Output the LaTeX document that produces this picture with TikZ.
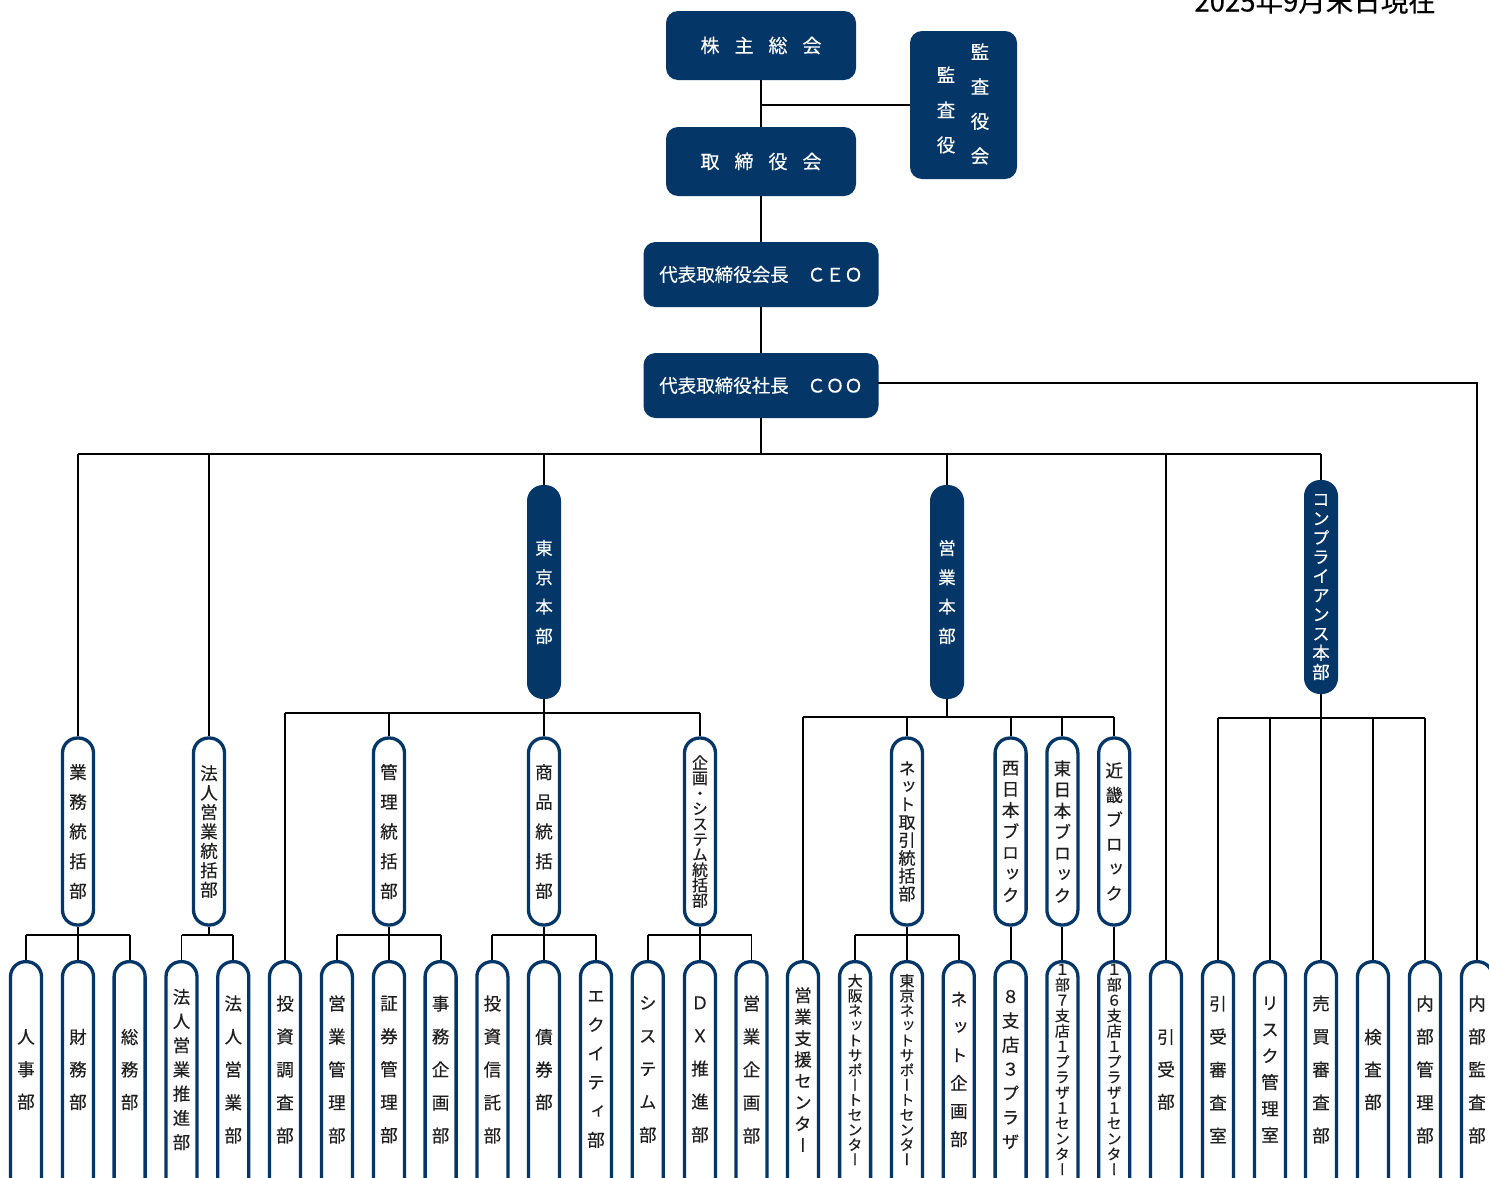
\documentclass[tikz,border=0pt]{standalone}
\usepackage{fontspec}
\setmainfont{Noto Sans CJK JP}[FakeBold=0.3]
\newfontfamily\vfont{Noto Sans CJK JP}[RawFeature=+vert,FakeBold=0.3]
\definecolor{navy}{RGB}{4,54,104}
\definecolor{txt}{RGB}{30,30,30}
\makeatletter
\def\vt@app#1{\ifx\vt@acc\@empty\def\vt@acc{#1}\else\expandafter\def\expandafter\vt@acc\expandafter{\vt@acc\\#1}\fi}
\newcommand\vt[1]{\def\vt@acc{}\@tfor\vt@c:=#1\do{\expandafter\vt@app\expandafter{\vt@c}}\vt@acc}
\makeatother
\tikzset{
 conn/.style={draw=black, line width=1.9pt},
 fbox/.style={fill=navy, text=white, rounded corners=12pt, inner sep=0pt},
 vtxt/.style 2 args={font={\vfont\fontsize{#1}{#2}\selectfont\lineskiplimit=-100pt\lineskip=0pt}, align=center, inner sep=0pt},
 vfill/.style={fill=navy, text=white, rounded corners=16pt, minimum width=34pt, minimum height=214pt, inner sep=0pt},
 midbox/.style={draw=navy, fill=white, line width=3.3pt, rounded corners=15pt, minimum width=31pt, minimum height=187pt, inner sep=0pt, text=txt},
 botbox/.style={draw=navy, fill=white, line width=3.3pt, rounded corners=15pt, minimum width=31pt, minimum height=235pt, inner sep=0pt, anchor=north},
}
\newcommand\bnode[5]{%
 \node[botbox] (#1) at (#2,960) {};
 \node[vtxt={#3}{#4}, text=txt] (#1-t) at (#2,1069.5) {\vt{#5}};
}
\newcommand\mnode[5]{%
 \node[midbox, vtxt={#3}{#4}] (#1) at (#2,831.5) {\vt{#5}};
}
\begin{document}
\begin{tikzpicture}[x=1pt,y=-1pt]
\useasboundingbox (0,0) rectangle (1489,1178);
\clip (0,0) rectangle (1489,1178);
\fill[white] (0,0) rectangle (1489,1178);

% date
\node[anchor=base east, font=\fontsize{27.5}{27.5}\selectfont, text=black, inner sep=0pt] (date) at (1436,11.5) {2025年9月末日現在};

% top boxes
\node[fbox, minimum width=190pt, minimum height=69pt, font=\fontsize{19}{19}\selectfont] (kabu) at (761,45.5) {株\hspace{15pt}主\hspace{15pt}総\hspace{15pt}会};
\node[fbox, minimum width=190pt, minimum height=69pt, font=\fontsize{19}{19}\selectfont] (tori) at (761,161.5) {取\hspace{15pt}締\hspace{15pt}役\hspace{15pt}会};
\node[fbox, minimum width=107pt, minimum height=148pt] (kansa) at (963.5,105) {};
\node[vtxt={18.5}{34.7}, text=white] (kansa-a) at (980,104) {\vt{監査役会}};
\node[vtxt={18.5}{35}, text=white] (kansa-b) at (946,110) {\vt{監査役}};
\node[fbox, minimum width=235pt, minimum height=65pt, font=\fontsize{18.5}{18.5}\selectfont] (ceo) at (761,274.5) {代表取締役会長　ＣＥＯ};
\node[fbox, minimum width=235pt, minimum height=65pt, font=\fontsize{18.5}{18.5}\selectfont] (coo) at (761,385.5) {代表取締役社長　ＣＯＯ};

% headquarters (filled vertical)
\node[vfill, vtxt={17.5}{29.3}] (tokyo) at (544,592) {\vt{東京本部}};
\node[vfill, vtxt={17.5}{29.3}] (eigyo) at (947,592) {\vt{営業本部}};
\node[vfill, vtxt={17.5}{19.2}] (compl) at (1321,587) {\vt{コンプライアンス本部}};

% middle row
\mnode{gyomu}{78}{17.5}{29.7}{業務統括部}
\mnode{hojin}{209}{17.5}{19.4}{法人営業統括部}
\mnode{kanri}{389}{17.5}{29.7}{管理統括部}
\mnode{shohin}{544}{17.5}{29.7}{商品統括部}
\mnode{kikaku}{700}{16}{15.3}{企画・システム統括部}
\mnode{net}{907}{17}{17.9}{ネット取引統括部}
\mnode{nishi}{1010.6}{17.5}{21.2}{西日本ブロック}
\mnode{higashi}{1062.4}{17.5}{21.2}{東日本ブロック}
\mnode{kinki}{1114.2}{17.5}{24.6}{近畿ブロック}

% bottom row
\bnode{jinji}{26}{17.5}{32.5}{人事部}
\bnode{zaimu}{78}{17.5}{32.5}{財務部}
\bnode{somu}{129.6}{17.5}{32.5}{総務部}
\bnode{hsuishin}{181.5}{17.5}{24.2}{法人営業推進部}
\bnode{heigyo}{233.3}{17.5}{33}{法人営業部}
\bnode{tchosa}{285}{17.5}{33}{投資調査部}
\bnode{ekanri}{336.9}{17.5}{33}{営業管理部}
\bnode{skanri}{389}{17.5}{33}{証券管理部}
\bnode{jimu}{440.6}{17.5}{33}{事務企画部}
\bnode{toshin}{492.4}{17.5}{33}{投資信託部}
\bnode{saiken}{544}{17.5}{32.5}{債券部}
\bnode{equity}{596.0}{17.5}{28.8}{エクイティ部}
\bnode{system}{647.8}{17.5}{33}{システム部}
\bnode{dx}{700}{17.5}{33}{ＤＸ推進部}
\bnode{ekikaku}{751.5}{17.5}{33}{営業企画部}
\bnode{eshien}{803}{17.5}{21.4}{営業支援センター}
\bnode{osaka}{855.1}{15}{14.9}{大阪ネットサポートセンター}
\bnode{tnet}{907}{15}{14.9}{東京ネットサポートセンター}
\bnode{nkikaku}{958.8}{17.5}{28}{ネット企画部}
\bnode{plaza}{1010.6}{17.5}{24.2}{８支店３プラザ}
\bnode{east}{1062.4}{15}{15.4}{１部７支店１プラザ１センター}
\bnode{kinkib}{1114.2}{15}{15.4}{１部６支店１プラザ１センター}
\bnode{hikiuke}{1166}{17.5}{32.5}{引受部}
\bnode{hshinsa}{1218}{17.5}{33}{引受審査室}
\bnode{risk}{1270}{17.5}{26.4}{リスク管理室}
\bnode{baibai}{1321}{17.5}{33}{売買審査部}
\bnode{kensa}{1373}{17.5}{32.5}{検査部}
\bnode{naikan}{1425}{17.5}{33}{内部管理部}
\bnode{naibu}{1477}{17.5}{33}{内部監査部}

% connectors: top
\draw[conn] (kabu.south) -- (tori.north);
\coordinate (kj) at (761,105);
\draw[conn] (kj) -- (kansa.west |- kj);
\draw[conn] (tori.south) -- (ceo.north);
\draw[conn] (ceo.south) -- (coo.north);
\coordinate (cr) at (878,383);
\draw[conn] (cr) -- (cr -| naibu.north) -- (naibu.north);

% main bus
\coordinate (b1) at (0,454);
\draw[conn] (coo.south) -- (coo.south |- b1);
\draw[conn] (gyomu.north |- b1) -- (compl.north |- b1);
\foreach \n in {gyomu,hojin,tokyo,eigyo,hikiuke,compl} \draw[conn] (\n.north |- b1) -- (\n.north);

% Tokyo HQ
\coordinate (b2) at (0,713);
\draw[conn] (tokyo.south) -- (tokyo.south |- b2);
\draw[conn] (tchosa.north |- b2) -- (kikaku.north |- b2);
\foreach \n in {tchosa,kanri,shohin,kikaku} \draw[conn] (\n.north |- b2) -- (\n.north);

% Sales HQ
\coordinate (b3) at (0,717);
\draw[conn] (eigyo.south) -- (eigyo.south |- b3);
\draw[conn] (eshien.north |- b3) -- (kinki.north |- b3);
\foreach \n in {eshien,net,nishi,higashi,kinki} \draw[conn] (\n.north |- b3) -- (\n.north);

% Compliance HQ
\coordinate (b4) at (0,718);
\draw[conn] (compl.south) -- (compl.south |- b4);
\draw[conn] (hshinsa.north |- b4) -- (naikan.north |- b4);
\foreach \n in {hshinsa,risk,baibai,kensa,naikan} \draw[conn] (\n.north |- b4) -- (\n.north);

% small buses
\coordinate (b5) at (0,935);
\draw[conn] (gyomu.south) -- (gyomu.south |- b5);
\draw[conn] (jinji.north |- b5) -- (somu.north |- b5);
\foreach \n in {jinji,zaimu,somu} \draw[conn] (\n.north |- b5) -- (\n.north);
\draw[conn] (hojin.south) -- (hojin.south |- b5);
\draw[conn] (hsuishin.north |- b5) -- (heigyo.north |- b5);
\foreach \n in {hsuishin,heigyo} \draw[conn] (\n.north |- b5) -- (\n.north);
\draw[conn] (kanri.south) -- (kanri.south |- b5);
\draw[conn] (ekanri.north |- b5) -- (jimu.north |- b5);
\foreach \n in {ekanri,skanri,jimu} \draw[conn] (\n.north |- b5) -- (\n.north);
\draw[conn] (shohin.south) -- (shohin.south |- b5);
\draw[conn] (toshin.north |- b5) -- (equity.north |- b5);
\foreach \n in {toshin,saiken,equity} \draw[conn] (\n.north |- b5) -- (\n.north);
\draw[conn] (kikaku.south) -- (kikaku.south |- b5);
\draw[conn] (system.north |- b5) -- (ekikaku.north |- b5);
\foreach \n in {system,dx,ekikaku} \draw[conn] (\n.north |- b5) -- (\n.north);
\draw[conn] (net.south) -- (net.south |- b5);
\draw[conn] (osaka.north |- b5) -- (nkikaku.north |- b5);
\foreach \n in {osaka,tnet,nkikaku} \draw[conn] (\n.north |- b5) -- (\n.north);
\draw[conn] (nishi.south) -- (plaza.north);
\draw[conn] (higashi.south) -- (east.north);
\draw[conn] (kinki.south) -- (kinkib.north);
\end{tikzpicture}
\end{document}
